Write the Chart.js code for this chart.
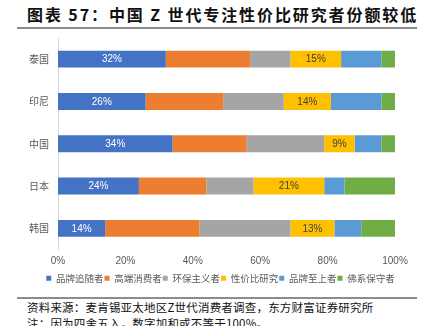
<!DOCTYPE html>
<html><head><meta charset="utf-8">
<script src="https://cdn.jsdelivr.net/npm/chart.js@4.4.0/dist/chart.umd.min.js"></script>
<style>
html,body{margin:0;padding:0;background:#fff;width:427px;height:326px;overflow:hidden;position:relative;font-family:"Noto Sans CJK SC",sans-serif;}
#title{position:absolute;left:27px;top:4px;font-size:16px;font-weight:bold;color:#111;letter-spacing:1.9px;white-space:nowrap;line-height:20px;}
#tline{position:absolute;left:17px;top:27px;width:400px;height:2px;background:#8c8c8c;}
#bline{position:absolute;left:17px;top:297px;width:400px;height:2px;background:#8c8c8c;}
#src{position:absolute;left:27px;top:299px;font-size:11.5px;color:#111;white-space:nowrap;line-height:16px;letter-spacing:0.2px;}
#cw{position:absolute;left:0;top:0;width:427px;height:296px;}
</style></head><body>
<div id="title">图表 57：中国 Z 世代专注性价比研究者份额较低</div>
<div id="tline"></div>
<div id="cw"><canvas id="c"></canvas></div>
<div id="bline"></div>
<div id="src">资料来源：麦肯锡亚太地区Z世代消费者调查，东方财富证券研究所<br>注：因为四舍五入，数字加和或不等于100%。</div>
<script>
const categories = ["泰国","印尼","中国","日本","韩国"];
const seriesNames = ["品牌追随者","高端消费者","环保主义者","性价比研究","品牌至上者","佛系保守者"];
const brandFollowers = [32,26,34,24,14];
const premium = [25,23,22,20,28];
const eco = [12,18,23,14,27];
const valueSeekers = [15,14,9,21,13];
const brandSupreme = [12,15,8,6,8];
const zen = [4,4,4,15,10];
const xTicks = ["0%","20%","40%","60%","80%","100%"];
const colors = ["#4472C4","#ED7D31","#A5A5A5","#FFC000","#5B9BD5","#70AD47"];
const seriesData = [brandFollowers,premium,eco,valueSeekers,brandSupreme,zen];
const labelled = {0:"#ffffff",3:"#404040"};

const labelPlugin = {
  id:'segLabels',
  afterLayout(chart){
    const lg = chart.legend;
    if(lg){ lg.left += 23; lg.right += 23; if(lg.legendHitBoxes) lg.legendHitBoxes.forEach(h=>{h.left+=23;}); }
  },
  afterDatasetsDraw(chart){
    const ctx = chart.ctx;
    ctx.save();
    ctx.font = '10px "Liberation Sans", Arial, sans-serif';
    ctx.textAlign='center'; ctx.textBaseline='middle';
    Object.keys(labelled).forEach(k=>{
      const di = +k;
      const meta = chart.getDatasetMeta(di);
      meta.data.forEach((el,i)=>{
        const v = chart.data.datasets[di].data[i];
        ctx.fillStyle = labelled[k];
        ctx.fillText(v+'%', (el.x+el.base)/2, el.y+0.5);
      });
    });
    ctx.restore();
  }
};

new Chart(document.getElementById('c'),{
  type:'bar',
  data:{
    labels:categories,
    datasets:seriesData.map((d,i)=>({label:seriesNames[i],data:d,backgroundColor:colors[i],borderWidth:0,categoryPercentage:1,barPercentage:0.4}))
  },
  options:{
    indexAxis:'y',
    responsive:true,maintainAspectRatio:false,animation:false,
    layout:{padding:{top:38,right:32,left:0,bottom:3}},
    plugins:{
      legend:{position:'bottom',labels:{boxWidth:5,boxHeight:5,padding:1,color:'#595959',font:{size:9.5,family:'"Noto Sans CJK SC", sans-serif'}}},
      tooltip:{enabled:false}
    },
    scales:{
      x:{stacked:true,min:0,max:100,
        ticks:{stepSize:20,color:'#595959',font:{size:10,family:'"Liberation Sans", Arial, sans-serif'},padding:6,
          callback:(v,i)=>xTicks[i]},
        grid:{display:false,drawTicks:false},border:{display:false},
        afterFit(s){s.height=23;}},
      y:{stacked:true,
        ticks:{color:'#595959',font:{size:10,family:'"Noto Sans CJK SC", sans-serif'},padding:9},
        grid:{display:false,drawTicks:false},border:{display:true,color:'#d9d9d9',width:1},
        afterFit(s){s.width=58;}}
    }
  },
  plugins:[labelPlugin]
});
</script>
</body></html>
